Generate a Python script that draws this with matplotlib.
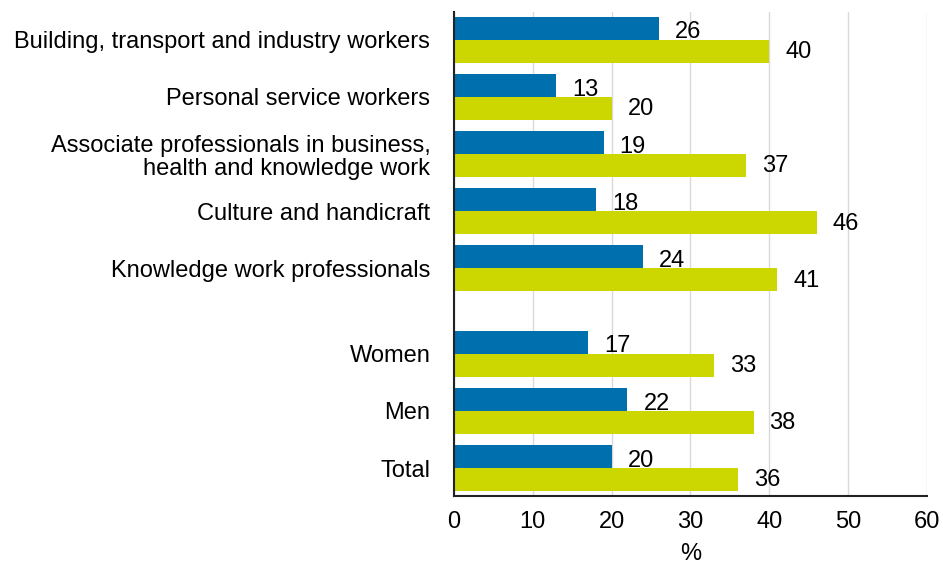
import matplotlib.pyplot as plt
import numpy as np

plt.rcParams['font.family'] = ['Liberation Sans', 'DejaVu Sans']

categories = [
    'Building, transport and industry workers',
    'Personal service workers',
    'Associate professionals in business,\nhealth and knowledge work',
    'Culture and handicraft',
    'Knowledge work professionals',
    'Women',
    'Men',
    'Total',
]
blue_vals = [26, 13, 19, 18, 24, 17, 22, 20]
green_vals = [40, 20, 37, 46, 41, 33, 38, 36]
xticks = [0, 10, 20, 30, 40, 50, 60]

blue = '#006FAE'
green = '#CCD600'
fs = 17

# occupational groups, then a gap before the gender rows
pos = np.array([0, 1, 2, 3, 4, 5.5, 6.5, 7.5])
h = 0.4

fig = plt.figure(figsize=(9.43, 5.66), dpi=100)
ax = fig.add_axes([0.4814, 0.1237, 0.983 - 0.4814, 0.979 - 0.1237])

ax.barh(pos - h / 2, blue_vals, height=h, color=blue, zorder=3)
ax.barh(pos + h / 2, green_vals, height=h, color=green, zorder=3)

for y, v in zip(pos - h / 2, blue_vals):
    ax.annotate(str(v), (v, y), xytext=(16, -4), textcoords='offset pixels',
                va='center', ha='left', fontsize=fs)
for y, v in zip(pos + h / 2, green_vals):
    ax.annotate(str(v), (v, y), xytext=(16, -1), textcoords='offset pixels',
                va='center', ha='left', fontsize=fs)

ax.set_xlim(0, 60)
ax.set_ylim(7.99, -0.49)
ax.set_xticks(xticks)
ax.set_xticklabels([str(t) for t in xticks], fontsize=fs)
ax.set_yticks(pos)
ax.set_yticklabels(categories, fontsize=fs, linespacing=1.1)
ax.tick_params(axis='both', length=0)
ax.tick_params(axis='y', pad=17)
ax.tick_params(axis='x', pad=11)
ax.set_xlabel('%', fontsize=fs, labelpad=7)

ax.grid(axis='x', color='#d9d9d9', linewidth=1, zorder=0)
for s in ['top', 'right']:
    ax.spines[s].set_visible(False)
for s in ['left', 'bottom']:
    ax.spines[s].set_color('#222222')
    ax.spines[s].set_linewidth(1.5)
    ax.spines[s].set_zorder(4)

fig.savefig('out.png', dpi=100)
